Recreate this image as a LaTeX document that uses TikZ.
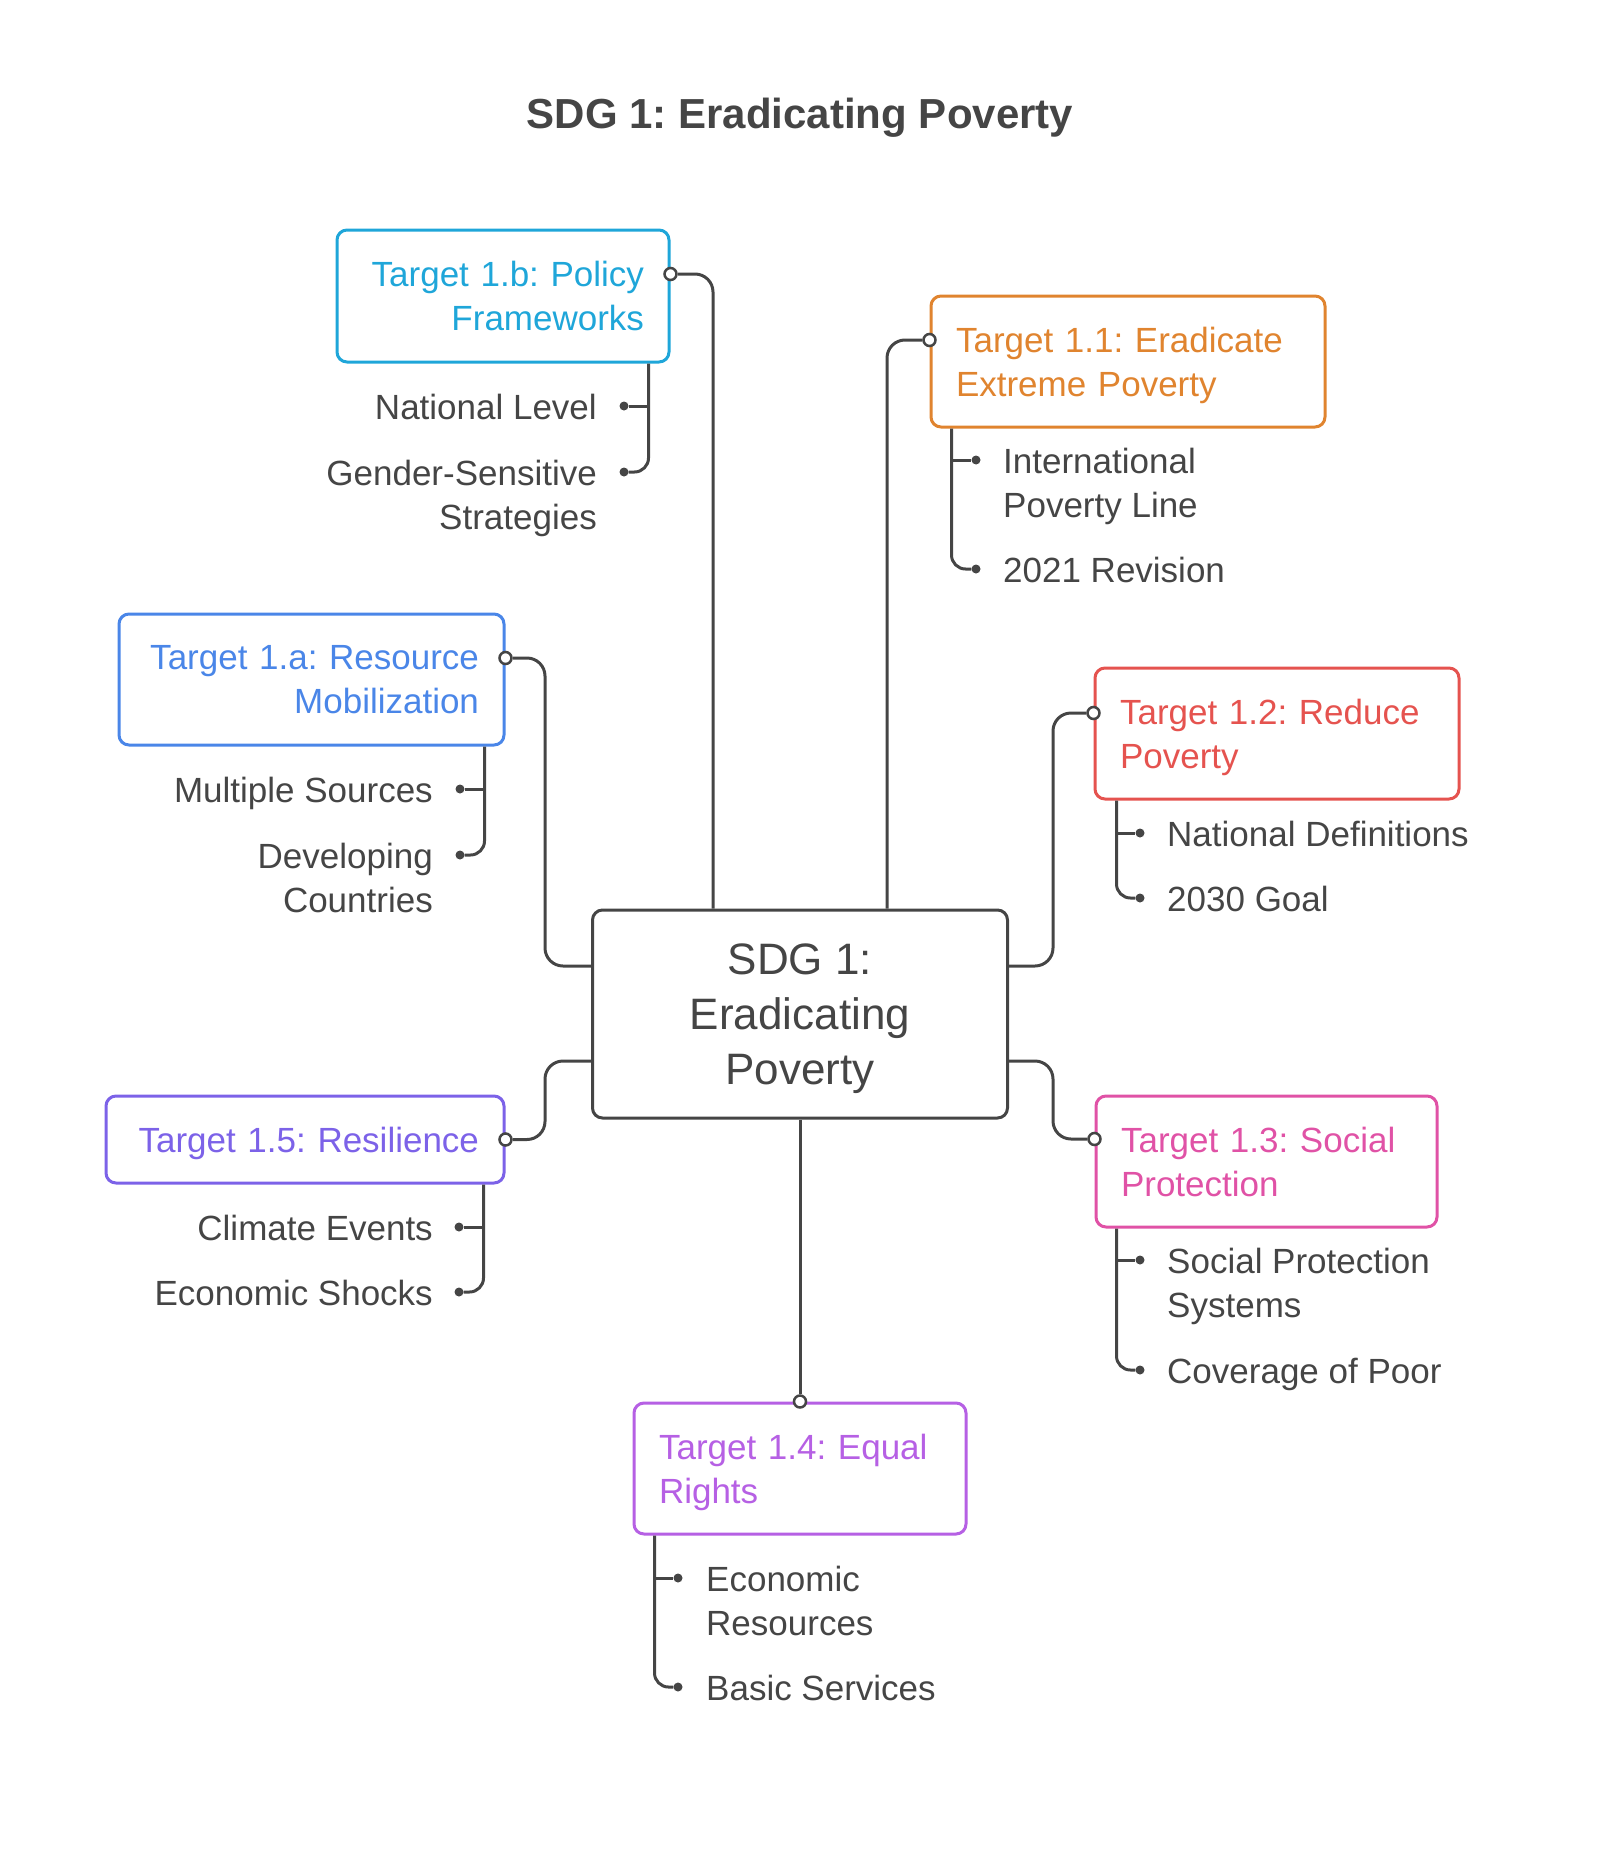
\documentclass[tikz,border=0pt]{standalone}
\usepackage{fontspec}
\setmainfont{Liberation Sans}
\frenchspacing
\definecolor{ink}{HTML}{454545}
\definecolor{tcyan}{HTML}{1FA6D9}
\definecolor{torange}{HTML}{E0842F}
\definecolor{tblue}{HTML}{4A86E8}
\definecolor{tred}{HTML}{E5534F}
\definecolor{tpink}{HTML}{E052A6}
\definecolor{tpurple}{HTML}{B660E4}
\definecolor{tviolet}{HTML}{7C62E8}
\newcommand{\nodepth}[1]{\raisebox{0pt}[\height][0pt]{#1}}
\begin{document}
\begin{tikzpicture}[x=1pt, y=-1pt,
    target/.style={draw=#1, text=#1, line width=3pt, rounded corners=10pt,
      inner xsep=25pt, inner ysep=0pt, font=\fontsize{35}{44}\selectfont},
    hub/.style={draw=ink, text=ink, line width=3pt, rounded corners=10pt,
      minimum width=415pt, minimum height=208pt, align=center,
      font=\fontsize{44}{55}\selectfont},
    leaf/.style={text=ink, inner sep=0pt, font=\fontsize{35}{44}\selectfont},
    link/.style={draw=ink, line width=3pt, rounded corners=18pt},
    twig/.style={draw=ink, line width=3pt, rounded corners=14pt},
    port/.style={circle, draw=ink, fill=white, line width=2.5pt, inner sep=0pt, minimum size=12pt},
    knob/.style={circle, fill=ink, inner sep=0pt, minimum size=9pt}]
  \useasboundingbox (0,0) rectangle (1600,1852);
  \node[text=ink, font=\fontsize{42}{50}\selectfont\bfseries, anchor=north] (title) at (800,95) {SDG 1: Eradicating Poverty};
  \node[hub] (sdg) at (800,1014) {SDG 1:\\Eradicating\\\nodepth{Poverty}};
  \node[target=tcyan, align=right, text width=282pt, minimum height=132pt] (tb) at (503,296) {Target 1.b: Policy\\Frameworks};
  \node[target=torange, align=left, text width=344pt, minimum height=131pt] (t1) at (1128,361.5) {Target 1.1: Eradicate\\\nodepth{Extreme Poverty}};
  \node[target=tblue, align=right, text width=335pt, minimum height=131pt] (ta) at (311.5,679.5) {Target 1.a: Resource\\Mobilization};
  \node[target=tred, align=left, text width=314pt, minimum height=131pt] (t2) at (1277,733.5) {Target 1.2: Reduce\\\nodepth{Poverty}};
  \node[target=tpink, align=left, text width=291pt, minimum height=131pt] (t3) at (1266.5,1161.5) {Target 1.3: Social\\Protection};
  \node[target=tpurple, align=left, text width=282pt, minimum height=131pt] (t4) at (800,1468.5) {Target 1.4: Equal\\\nodepth{Rights}};
  \node[target=tviolet, align=right, text width=348pt, minimum height=87pt] (t5) at (305,1139.5) {\nodepth{Target 1.5: Resilience}};

  \node[leaf, anchor=north east, align=right] (nl) at (597,393.5) {National Level};
  \node[leaf, anchor=north east, align=right] (gs) at (597,459.5) {Gender-Sensitive\\Strategies};
  \node[leaf, anchor=north west, align=left] (ip) at (1003,447.5) {International\\Poverty Line};
  \node[leaf, anchor=north west, align=left] (rv) at (1003,556.5) {2021 Revision};
  \node[leaf, anchor=north east, align=right] (ms) at (433,776.5) {Multiple Sources};
  \node[leaf, anchor=north east, align=right] (dc) at (433,842.5) {Developing\\Countries};
  \node[leaf, anchor=north west, align=left] (nd) at (1167,820.5) {National Definitions};
  \node[leaf, anchor=north west, align=left] (gl) at (1167,885.5) {2030 Goal};
  \node[leaf, anchor=north west, align=left] (sp) at (1167,1247.5) {Social Protection\\Systems};
  \node[leaf, anchor=north west, align=left] (cp) at (1167,1357.5) {Coverage of Poor};
  \node[leaf, anchor=north west, align=left] (er) at (706,1565.5) {Economic\\Resources};
  \node[leaf, anchor=north west, align=left] (bs) at (706,1674.5) {Basic Services};
  \node[leaf, anchor=north east, align=right] (ce) at (433,1214.5) {Climate Events};
  \node[leaf, anchor=north east, align=right] (es) at (433,1279.5) {Economic Shocks};

  \node[port] (pb) at ([yshift=22pt]tb.east) {};
  \node[port] (p1) at ([yshift=21.5pt]t1.west) {};
  \node[port] (pa) at ([yshift=21.5pt]ta.east) {};
  \node[port] (p2) at ([yshift=20.5pt]t2.west) {};
  \node[port] (p3) at ([yshift=22.5pt]t3.west) {};
  \node[port] (p4) at (t4.north) {};
  \node[port] (p5) at (t5.east) {};

  \node[knob] (knl) at (624,406) {};
  \node[knob] (kgs) at (624,472) {};
  \node[knob] (kip) at (976,460) {};
  \node[knob] (krv) at (976,569) {};
  \node[knob] (kms) at (460,789) {};
  \node[knob] (kdc) at (460,855) {};
  \node[knob] (knd) at (1140,833) {};
  \node[knob] (kgl) at (1140,898) {};
  \node[knob] (ksp) at (1140,1260) {};
  \node[knob] (kcp) at (1140,1370) {};
  \node[knob] (ker) at (678,1578) {};
  \node[knob] (kbs) at (678,1687) {};
  \node[knob] (kce) at (459,1227) {};
  \node[knob] (kes) at (459,1292) {};

  \begin{scope}
    \draw[link] ([xshift=-87pt]sdg.north) |- (pb);
    \draw[link] ([xshift=87pt]sdg.north) |- (p1);
    \draw[link] ([yshift=48pt]sdg.west) -- ++(-46,0) |- (pa);
    \draw[link] ([yshift=-47pt]sdg.west) -- ++(-46,0) |- (p5);
    \draw[link] ([yshift=48pt]sdg.east) -- ++(44,0) |- (p2);
    \draw[link] ([yshift=-47pt]sdg.east) -- ++(44,0) |- (p3);
    \draw[link] (sdg.south) -- (p4);
  \end{scope}

  \coordinate (sb) at ([xshift=-22pt]tb.south east);
  \coordinate (s1) at ([xshift=22pt]t1.south west);
  \coordinate (sa) at ([xshift=-21pt]ta.south east);
  \coordinate (s2) at ([xshift=23pt]t2.south west);
  \coordinate (s3) at ([xshift=22pt]t3.south west);
  \coordinate (s4) at ([xshift=22pt]t4.south west);
  \coordinate (s5) at ([xshift=-22pt]t5.south east);
  \draw[twig] (sb) |- (kgs);
  \draw[twig] (sb |- knl) -- (knl);
  \draw[twig] (s1) |- (krv);
  \draw[twig] (s1 |- kip) -- (kip);
  \draw[twig] (sa) |- (kdc);
  \draw[twig] (sa |- kms) -- (kms);
  \draw[twig] (s2) |- (kgl);
  \draw[twig] (s2 |- knd) -- (knd);
  \draw[twig] (s3) |- (kcp);
  \draw[twig] (s3 |- ksp) -- (ksp);
  \draw[twig] (s4) |- (kbs);
  \draw[twig] (s4 |- ker) -- (ker);
  \draw[twig] (s5) |- (kes);
  \draw[twig] (s5 |- kce) -- (kce);
\end{tikzpicture}
\end{document}
